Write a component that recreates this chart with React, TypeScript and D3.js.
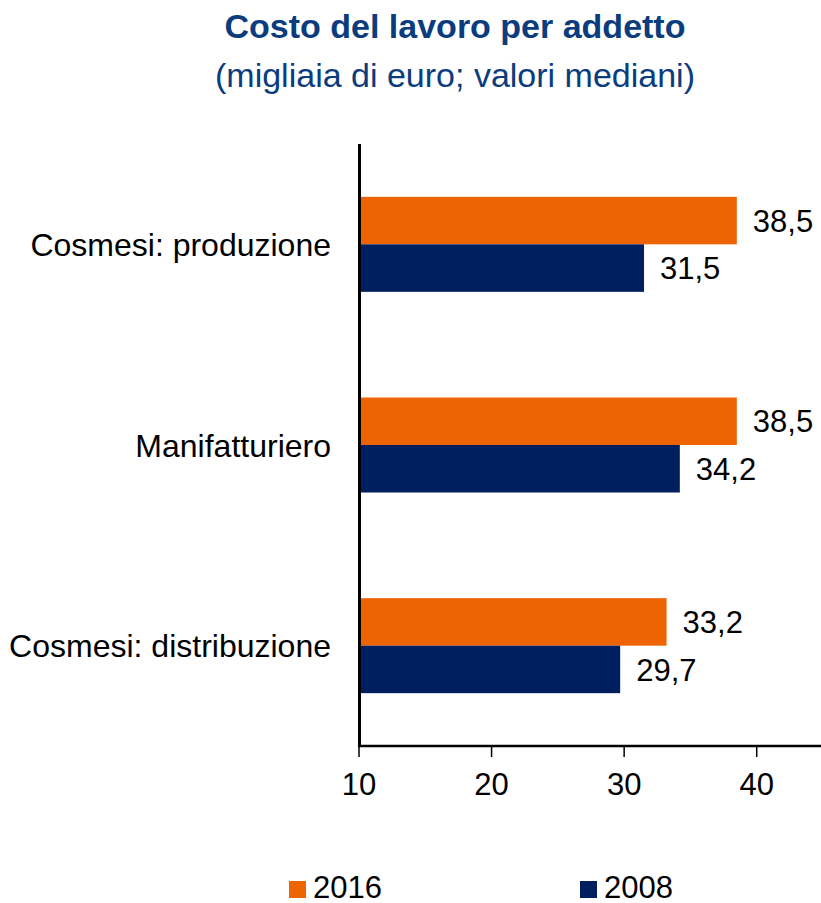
import React from "react";
import * as d3 from "d3";

const categories = ["Cosmesi: produzione", "Manifatturiero", "Cosmesi: distribuzione"];
const series = ["2016", "2008"];
const values2016 = [38.5, 38.5, 33.2];
const values2008 = [31.5, 34.2, 29.7];
const xTicks = [10, 20, 30, 40];
const colors = ["#EE6402", "#001F5F"];

export default function App() {
  const W = 821, H = 903;
  const x = d3.scaleLinear().domain([10, 45]).range([359, 823]);
  const y = d3.scaleBand<string>().domain(categories).range([144, 746]);
  const barH = 47.5;
  const font = "'Liberation Sans', Arial, sans-serif";
  const data = [values2016, values2008];
  return (
    <svg width={W} height={H} style={{ position: "absolute", left: 0, top: 0 }} fontFamily={font}>
      <rect width={W} height={H} fill="#fff" />
      <text x={455} y={38} textAnchor="middle" fontSize={34} fontWeight="bold" fill="#0B3C7D">Costo del lavoro per addetto</text>
      <text x={455} y={87} textAnchor="middle" fontSize={34} fill="#0B3C7D">(migliaia di euro; valori mediani)</text>
      {categories.map((c, i) => {
        const cy = (y(c) as number) + y.bandwidth() / 2;
        return (
          <g key={c}>
            {series.map((s, k) => {
              const v = data[k][i];
              const top = cy - barH + k * barH;
              return (
                <g key={s}>
                  <rect x={x(10)} y={top} width={x(v) - x(10)} height={barH} fill={colors[k]} />
                  <text x={x(v) + 16} y={top + barH / 2} dy="0.36em" fontSize={31} fill="#000">
                    {v.toFixed(1).replace(".", ",")}
                  </text>
                </g>
              );
            })}
            <text x={331} y={cy} dy="0.36em" textAnchor="end" fontSize={32} fill="#000">{c}</text>
          </g>
        );
      })}
      <line x1={359.5} x2={359.5} y1={144} y2={747} stroke="#000" strokeWidth={3} />
      <line x1={358} x2={821} y1={746} y2={746} stroke="#000" strokeWidth={2.5} />
      {xTicks.map((t) => (
        <g key={t}>
          <line x1={x(t)} x2={x(t)} y1={746} y2={757} stroke="#000" strokeWidth={1.5} />
          <text x={x(t)} y={795} textAnchor="middle" fontSize={31} fill="#000">{t}</text>
        </g>
      ))}
      {series.map((s, k) => {
        const lx = [289, 580][k];
        return (
          <g key={s}>
            <rect x={lx} y={881} width={17} height={17} fill={colors[k]} />
            <text x={lx + 24} y={898} fontSize={31} fill="#000">{s}</text>
          </g>
        );
      })}
    </svg>
  );
}
